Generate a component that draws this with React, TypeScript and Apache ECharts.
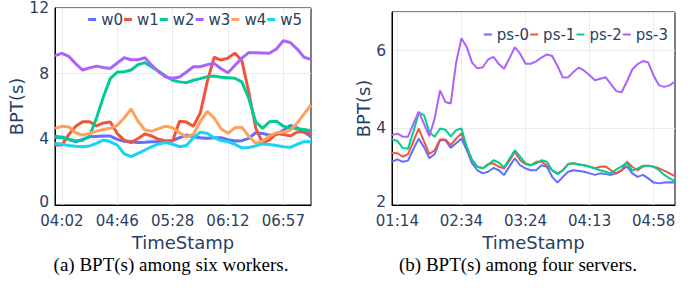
import React, { useEffect, useRef } from "react";
import * as echarts from "echarts";

// ---- Left chart: six workers ----
const workerTimes = [
  "03:56","04:02","04:07","04:13","04:18","04:24","04:29","04:35","04:40","04:46",
  "04:51","04:56","05:02","05:07","05:12","05:17","05:23","05:28","05:34","05:39",
  "05:45","05:50","05:56","06:01","06:07","06:12","06:18","06:23","06:29","06:35",
  "06:40","06:46","06:51","06:57","07:02","07:08","07:13","07:19",
];
const workerTickLabels = ["04:02", "04:46", "05:28", "06:12", "06:57"];
const workerNames = ["w0", "w1", "w2", "w3", "w4", "w5"];
const w0 = [4.1,4.15,4.0,3.85,4.0,4.15,4.18,4.2,4.2,4.0,3.88,3.85,3.8,3.82,3.85,3.86,3.9,3.92,4.1,4.26,4.16,4.1,4.06,4.1,4.1,3.98,3.9,3.92,4.06,4.4,4.36,4.25,4.3,4.55,4.85,4.7,4.45,4.16];
const w1 = [3.65,3.65,4.3,4.8,5.07,5.07,4.82,5.0,5.05,4.35,3.95,3.8,4.05,4.33,4.2,4.0,3.9,3.9,5.1,5.05,4.8,5.6,7.5,9.0,8.83,8.95,9.25,8.8,6.9,4.7,3.8,3.96,4.35,4.3,4.2,4.45,4.45,4.37];
const w2 = [4.2,4.1,4.0,3.9,3.95,4.2,5.3,6.6,7.72,8.1,8.12,8.22,8.55,8.67,8.4,8.15,7.85,7.6,7.5,7.45,7.6,7.7,7.82,7.86,7.78,7.75,7.72,7.5,6.5,5.07,4.67,5.07,5.1,4.8,4.7,4.65,4.6,4.53];
const w3 = [9.1,9.24,9.05,8.6,8.22,8.35,8.46,8.38,8.32,8.65,8.97,8.85,8.85,8.97,8.5,8.1,7.8,7.72,7.8,8.1,8.42,8.42,8.55,8.63,8.3,8.06,8.5,8.95,9.28,9.28,9.26,9.24,9.5,10.0,9.9,9.5,9.0,8.87];
const w4 = [4.67,4.8,4.75,4.4,4.26,4.35,4.5,4.6,4.67,4.85,5.3,5.85,5.1,4.57,4.5,4.65,4.8,4.7,4.4,4.15,4.3,5.1,5.7,5.3,4.65,4.37,4.7,4.73,4.2,3.76,3.9,4.2,4.4,4.45,4.55,5.0,5.55,6.09];
const w5 = [3.76,3.7,3.62,3.58,3.55,3.6,3.75,3.96,3.85,3.65,3.12,2.95,3.15,3.35,3.55,3.72,3.8,3.7,3.55,3.63,4.1,4.43,4.37,4.1,3.92,3.86,3.7,3.48,3.5,3.6,3.72,3.68,3.62,3.55,3.51,3.7,3.86,3.86];
const workerSeries = [w0, w1, w2, w3, w4, w5];

// ---- Right chart: four servers ----
const serverTimes = [
  "01:07","01:14","01:21","01:27","01:34","01:41","01:47","01:54","02:01","02:07",
  "02:14","02:21","02:27","02:34","02:38","02:42","02:46","02:51","02:55","02:59",
  "03:03","03:07","03:11","03:16","03:20","03:24","03:28","03:32","03:36","03:40",
  "03:44","03:48","03:52","03:56","04:01","04:05","04:09","04:13","04:17","04:21",
  "04:24","04:28","04:32","04:36","04:39","04:43","04:47","04:51","04:54","04:58",
  "05:02","05:06","05:09","05:13",
];
const serverTickLabels = ["01:14", "02:34", "03:24", "04:13", "04:58"];
const serverNames = ["ps-0", "ps-1", "ps-2", "ps-3"];
const ps0 = [3.12,3.18,3.12,3.15,3.45,3.72,3.5,3.21,3.32,3.68,3.68,3.48,3.6,3.72,3.42,3.08,2.9,2.82,2.86,2.96,2.9,2.78,3.0,3.21,3.03,2.95,2.9,2.9,3.03,2.99,2.73,2.58,2.73,2.86,2.9,2.88,2.86,2.82,2.78,2.82,2.8,2.78,2.82,2.9,3.0,2.82,2.73,2.78,2.69,2.58,2.56,2.58,2.59,2.58];
const ps1 = [3.35,3.34,3.25,3.32,3.65,3.98,3.65,3.32,3.42,3.7,3.7,3.55,3.72,3.85,3.5,3.16,2.99,2.95,3.06,3.08,2.99,2.95,3.15,3.38,3.16,3.06,3.03,3.12,3.12,3.03,2.9,2.82,2.9,3.06,3.08,3.05,3.03,2.99,2.95,2.99,3.0,2.9,2.82,2.9,3.12,2.99,2.9,3.0,3.02,2.99,2.95,2.89,2.82,2.75];
const ps2 = [3.7,3.66,3.48,3.46,3.9,4.39,4.33,3.88,3.77,3.98,3.95,3.78,3.94,3.98,3.5,3.16,2.99,2.95,3.04,3.16,3.1,2.97,3.2,3.42,3.25,3.08,3.03,3.08,3.16,3.12,2.9,2.8,2.9,3.06,3.08,3.05,3.03,2.99,2.95,2.9,2.86,2.82,2.92,3.0,3.09,2.89,2.95,3.02,3.02,2.99,2.9,2.78,2.69,2.62];
const ps3 = [3.81,3.85,3.77,3.77,4.1,4.42,4.1,3.78,4.25,4.97,4.67,4.63,5.68,6.32,6.09,5.69,5.54,5.57,5.77,5.84,5.65,5.53,5.8,6.09,5.92,5.66,5.66,5.72,5.82,5.9,5.86,5.6,5.3,5.31,5.45,5.56,5.48,5.36,5.23,5.27,5.31,5.13,4.95,4.92,5.2,5.51,5.65,5.73,5.69,5.35,5.1,5.06,5.1,5.2];
const serverSeries = [ps0, ps1, ps2, ps3];

const workerColors = ["#636efa", "#EF553B", "#00cc96", "#ab63fa", "#FFA15A", "#19d3f3"];
const serverColors = ["#636efa", "#EF553B", "#00cc96", "#ab63fa"];

const TEXT = "#2a3f5f";
const FONT = "DejaVu Sans";

export default function App() {
  const ref = useRef<HTMLDivElement>(null);
  useEffect(() => {
    if (!ref.current) return;
    const chart = echarts.init(ref.current, undefined, { renderer: "svg" });

    const xAxisBase = (data: string[], ticks: string[], gridIndex: number) => ({
      type: "category",
      gridIndex,
      data,
      boundaryGap: false,
      name: "TimeStamp",
      nameLocation: "middle",
      nameGap: 24,
      nameTextStyle: { fontFamily: FONT, fontSize: 18, color: TEXT },
      axisLine: { show: true, lineStyle: { color: "#000", width: 1 } },
      axisTick: { show: false },
      axisLabel: {
        interval: (_i: number, v: string) => ticks.includes(v),
        fontFamily: FONT,
        fontSize: 15,
        color: TEXT,
        margin: 8.5,
      },
      splitLine: {
        show: true,
        interval: (_i: number, v: string) => ticks.includes(v),
        lineStyle: { color: "#ebebeb", width: 1 },
      },
    });

    const yLabel = (minV: number, maxV: number) => ({
      fontFamily: FONT,
      fontSize: 15.5,
      color: TEXT,
      margin: 6,
      formatter: (v: number) => {
        if (v === minV) return "{lo|" + v + "}";
        if (v === maxV && maxV % 2 === 1) return "";
        return String(v);
      },
      rich: {
        lo: { fontFamily: FONT, fontSize: 15.5, color: TEXT, padding: [0, 0, 6, 0] },
      },
    });

    const option: any = {
      animation: false,
      textStyle: { fontFamily: FONT },
      grid: [
        { left: 55, top: 8, width: 256, height: 197, show: true, borderColor: "#000", borderWidth: 1, containLabel: false },
        { left: 392, top: 12, width: 283, height: 193, show: true, borderColor: "#000", borderWidth: 1, containLabel: false },
      ],
      legend: [
        {
          data: workerNames,
          right: 387,
          top: 7,
          icon: "rect",
          itemWidth: 8,
          itemHeight: 3,
          itemGap: 1,
          textStyle: { fontFamily: FONT, fontSize: 15, color: TEXT },
        },
        {
          data: serverNames,
          right: 21,
          top: 22,
          icon: "rect",
          itemWidth: 8,
          itemHeight: 2,
          itemGap: 1,
          textStyle: { fontFamily: FONT, fontSize: 15, color: TEXT },
        },
      ],
      xAxis: [
        xAxisBase(workerTimes, workerTickLabels, 0),
        xAxisBase(serverTimes, serverTickLabels, 1),
      ],
      yAxis: [
        {
          type: "value",
          gridIndex: 0,
          min: 0,
          max: 12,
          interval: 4,
          name: "BPT(s)",
          nameLocation: "middle",
          nameGap: 24,
          nameTextStyle: { fontFamily: FONT, fontSize: 18, color: TEXT },
          axisLine: { show: true, lineStyle: { color: "#000", width: 1 } },
          axisTick: { show: false },
          axisLabel: yLabel(0, 12),
          splitLine: { show: true, lineStyle: { color: "#ebebeb", width: 1 } },
        },
        {
          type: "value",
          gridIndex: 1,
          min: 2,
          max: 7,
          interval: 2,
          name: "BPT(s)",
          nameLocation: "middle",
          nameGap: 15,
          nameTextStyle: { fontFamily: FONT, fontSize: 18, color: TEXT },
          axisLine: { show: true, lineStyle: { color: "#000", width: 1 } },
          axisTick: { show: false },
          axisLabel: yLabel(2, 7),
          splitLine: { show: true, lineStyle: { color: "#ebebeb", width: 1 } },
        },
      ],
      series: [
        ...workerSeries.map((d, i) => ({
          type: "line",
          name: workerNames[i],
          xAxisIndex: 0,
          yAxisIndex: 0,
          data: d,
          showSymbol: false,
          symbol: "none",
          color: workerColors[i],
          lineStyle: { width: 3, color: workerColors[i] },
        })),
        ...serverSeries.map((d, i) => ({
          type: "line",
          name: serverNames[i],
          xAxisIndex: 1,
          yAxisIndex: 1,
          data: d,
          showSymbol: false,
          symbol: "none",
          color: serverColors[i],
          lineStyle: { width: 2, color: serverColors[i] },
        })),
      ],
      graphic: [
        {
          type: "text",
          x: 171,
          y: 264,
          style: {
            text: "(a) BPT(s) among six workers.",
            fontFamily: "Liberation Serif",
            fontSize: 19,
            fill: "#000",
            align: "center",
            verticalAlign: "middle",
          },
        },
        {
          type: "text",
          x: 518,
          y: 264,
          style: {
            text: "(b) BPT(s) among four servers.",
            fontFamily: "Liberation Serif",
            fontSize: 19,
            fill: "#000",
            align: "center",
            verticalAlign: "middle",
          },
        },
      ],
    };

    chart.setOption(option);
    return () => chart.dispose();
  }, []);

  return (
    <div
      ref={ref}
      style={{ position: "absolute", left: 0, top: 0, width: 694, height: 291, background: "#fff" }}
    />
  );
}
